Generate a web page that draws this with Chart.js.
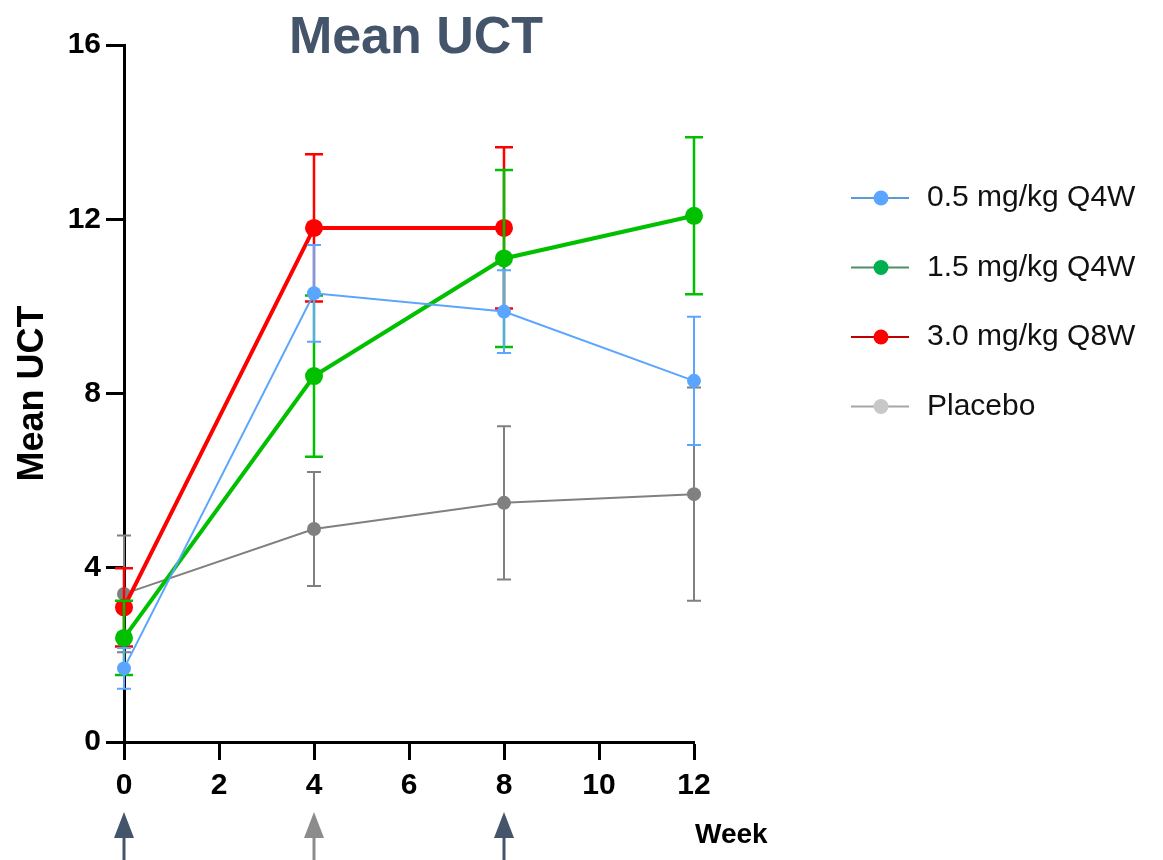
<!DOCTYPE html>
<html>
<head>
<meta charset="utf-8">
<script src="https://cdn.jsdelivr.net/npm/chart.js@4.4.1/dist/chart.umd.min.js"></script>
<style>
  html, body { margin: 0; padding: 0; background: #fff; }
  canvas { display: block; }
</style>
</head>
<body>
<canvas id="uct" width="1163" height="860"></canvas>
<script>
// semanas y valores (media ± DE)
const weeks = [0, 4, 8, 12];
const yTicks = [0, 4, 8, 12, 16];
const seriesNames = ['0.5 mg/kg Q4W', '1.5 mg/kg Q4W', '3.0 mg/kg Q8W', 'Placebo'];

const mean05 = [1.69, 10.30, 9.88, 8.29];
const sd05   = [0.47, 1.11, 0.95, 1.47];
const mean15 = [2.39, 8.40, 11.10, 12.08];
const sd15   = [0.85, 1.85, 2.03, 1.80];
const mean30 = [3.09, 11.80, 11.80];
const sd30   = [0.90, 1.69, 1.85];
const meanPb = [3.40, 4.89, 5.49, 5.69];
const sdPb   = [1.34, 1.31, 1.76, 2.45];

// dosis (flechas bajo el eje)
const doseWeeks  = [0, 4, 8];
const doseColors = ['#44546A', '#8C8C8C', '#44546A'];

const FONT = "'Liberation Sans', Arial, sans-serif";

const lineColors   = ['#5AA5FF', '#00C000', '#FF0000', '#808080'];
const legendLine   = ['#5B9BD5', '#4E8F6A', '#C00000', '#A6A6A6'];
const legendMarker = ['#5AA5FF', '#00B050', '#FF0000', '#C8C8C8'];
const widths       = [2, 4, 4, 2];
const radii        = [7, 9, 9, 7];

const means = [mean05, mean15, mean30, meanPb];
const sds   = [sd05, sd15, sd30, sdPb];

const toPoints = (m) => m.map((v, i) => ({ x: weeks[i], y: v }));

const errorBars = {
    id: 'errorBars',
    beforeDatasetDraw(chart, args) {
        const i = args.index;
        const { x, y } = chart.scales;
        const ctx = chart.ctx;
        const cap = widths[i] > 2 ? 9 : 7;
        ctx.save();
        ctx.strokeStyle = lineColors[i];
        ctx.lineWidth = widths[i] > 2 ? 2.5 : 2;
        means[i].forEach((m, k) => {
            const px = x.getPixelForValue(weeks[k]);
            const top = y.getPixelForValue(m + sds[i][k]);
            const bot = y.getPixelForValue(m - sds[i][k]);
            ctx.beginPath();
            ctx.moveTo(px, top); ctx.lineTo(px, bot);
            ctx.moveTo(px - cap, top); ctx.lineTo(px + cap, top);
            ctx.moveTo(px - cap, bot); ctx.lineTo(px + cap, bot);
            ctx.stroke();
        });
        ctx.restore();
    },
};

const extras = {
    id: 'extras',
    afterDraw(chart) {
        const ctx = chart.ctx;
        const xs = chart.scales.x;
        ctx.save();

        // título
        ctx.fillStyle = '#44546A';
        ctx.font = `bold 52px ${FONT}`;
        ctx.textAlign = 'center';
        ctx.textBaseline = 'alphabetic';
        ctx.fillText('Mean UCT', 416, 53);

        // leyenda
        ctx.textAlign = 'left';
        ctx.textBaseline = 'middle';
        ctx.font = `30px ${FONT}`;
        seriesNames.forEach((name, i) => {
            const yy = 198 + i * 69.5;
            ctx.strokeStyle = legendLine[i];
            ctx.lineWidth = 2;
            ctx.beginPath();
            ctx.moveTo(851, yy); ctx.lineTo(909, yy);
            ctx.stroke();
            ctx.fillStyle = legendMarker[i];
            ctx.beginPath();
            ctx.arc(881, yy, 7.5, 0, Math.PI * 2);
            ctx.fill();
            ctx.fillStyle = '#111';
            ctx.fillText(name, 927, yy);
        });

        // eje x: "Week"
        ctx.fillStyle = '#000';
        ctx.font = `bold 28px ${FONT}`;
        ctx.textBaseline = 'alphabetic';
        ctx.fillText('Week', 695, 843);

        // flechas de dosis
        doseWeeks.forEach((w, i) => {
            const px = xs.getPixelForValue(w);
            ctx.fillStyle = doseColors[i];
            ctx.strokeStyle = doseColors[i];
            ctx.beginPath();
            ctx.moveTo(px, 812);
            ctx.lineTo(px + 10, 838);
            ctx.lineTo(px - 10, 838);
            ctx.closePath();
            ctx.fill();
            ctx.lineWidth = 3;
            ctx.beginPath();
            ctx.moveTo(px, 836); ctx.lineTo(px, 860);
            ctx.stroke();
        });
        ctx.restore();
    },
};

new Chart(document.getElementById('uct'), {
    type: 'line',
    data: {
        datasets: seriesNames.map((name, i) => ({
            label: name,
            data: toPoints(means[i]),
            borderColor: lineColors[i],
            backgroundColor: lineColors[i],
            borderWidth: widths[i],
            pointRadius: radii[i],
            pointBorderWidth: 0,
            pointBackgroundColor: lineColors[i],
            tension: 0,
            clip: false,
        })),
    },
    options: {
        responsive: false,
        animation: false,
        layout: { padding: { left: 0, top: 45, right: 469, bottom: 0 } },
        plugins: {
            legend: { display: false },
            tooltip: { enabled: false },
            title: { display: false },
        },
        scales: {
            x: {
                type: 'linear',
                min: 0,
                max: 12,
                afterFit: (s) => { s.height = 118; },
                grid: { drawOnChartArea: false, drawTicks: true, tickLength: 18, tickWidth: 3, tickColor: '#000' },
                border: { display: true, width: 3, color: '#000' },
                ticks: {
                    stepSize: 2,
                    padding: 8,
                    color: '#000',
                    font: { family: FONT, size: 30, weight: 'bold' },
                },
            },
            y: {
                type: 'linear',
                min: 0,
                max: 16,
                afterFit: (s) => { s.width = 124; },
                afterBuildTicks: (s) => { s.ticks = yTicks.map((v) => ({ value: v })); },
                grid: { drawOnChartArea: false, drawTicks: true, tickLength: 18, tickWidth: 3, tickColor: '#000' },
                border: { display: true, width: 3, color: '#000' },
                ticks: {
                    padding: 5,
                    color: '#000',
                    font: { family: FONT, size: 30, weight: 'bold' },
                },
                title: {
                    display: true,
                    text: 'Mean UCT',
                    color: '#000',
                    padding: { top: 11, bottom: 0 },
                    font: { family: FONT, size: 36, weight: 'bold' },
                },
            },
        },
    },
    plugins: [errorBars, extras],
});
</script>
</body>
</html>
